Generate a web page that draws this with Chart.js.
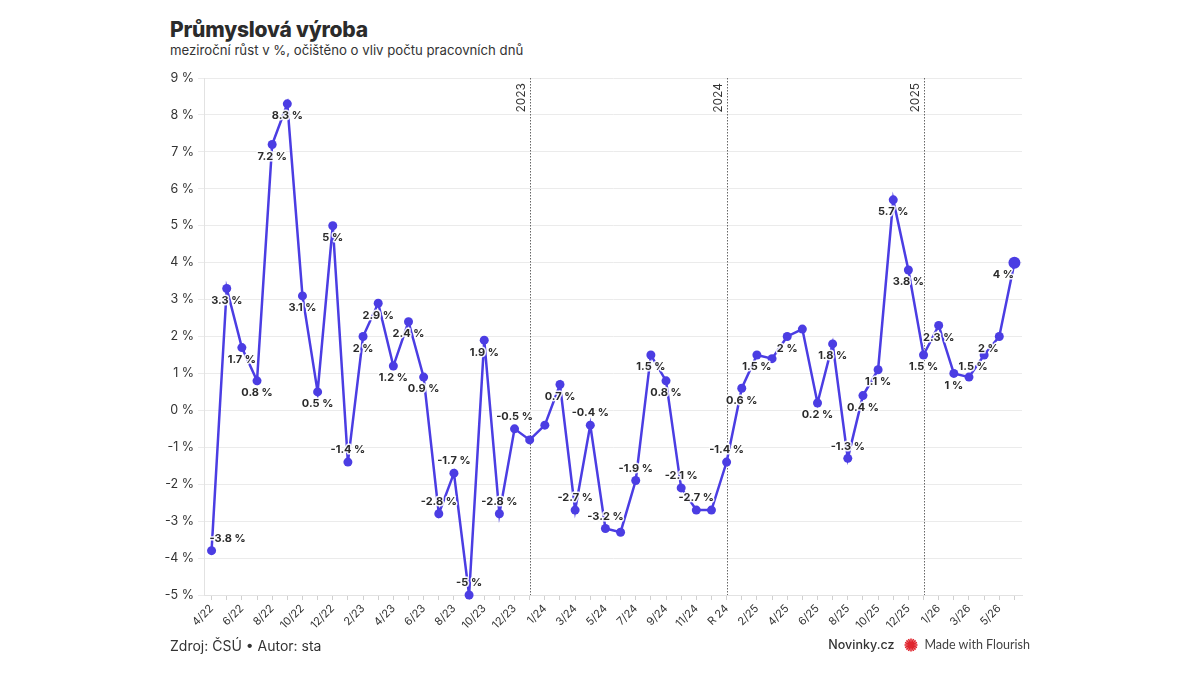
<!DOCTYPE html>
<html lang="cs">
<head>
<meta charset="utf-8">
<script src="https://cdn.jsdelivr.net/npm/chart.js@4.4.1/dist/chart.umd.min.js"></script>
<style>
  html, body { margin: 0; padding: 0; background: #fff; }
  body { width: 1200px; height: 675px; position: relative; overflow: hidden; font-family: Inter, "Noto Sans", sans-serif; color: #333; }
  #title { position: absolute; left: 170px; top: 17px; font-size: 21px; font-weight: 800; color: #2b2b2b; letter-spacing: -0.2px; }
  #subtitle { position: absolute; left: 170px; top: 42px; font-size: 13.2px; color: #333; }
  #chart-box { position: absolute; left: 150px; top: 60px; width: 880px; height: 580px; }
  #source { position: absolute; left: 170px; top: 637px; font-size: 14px; color: #333; }
  #brand { position: absolute; right: 170px; top: 637px; font-size: 12.5px; display: flex; align-items: center; gap: 6px; }
  #brand .nv { color: #333; font-weight: 500; margin-right: 4px; }
  #brand .fl { color: #444; font-family: Lato, sans-serif; font-size: 12.5px; }
</style>
</head>
<body>
<div id="title">Průmyslová výroba</div>
<div id="subtitle">meziroční růst v %, očištěno o vliv počtu pracovních dnů</div>
<div id="chart-box"><canvas id="prodChart"></canvas></div>
<div id="source">Zdroj: ČSÚ • Autor: sta</div>
<div id="brand">
  <span class="nv">Novinky.cz</span>
  <svg width="14" height="14" viewBox="-7 -7 14 14">
    <g stroke="#e0262f" stroke-width="1.6">
      <line x1="-6.5" y1="0" x2="6.5" y2="0"/><line x1="0" y1="-6.5" x2="0" y2="6.5"/>
      <line x1="-4.6" y1="-4.6" x2="4.6" y2="4.6"/><line x1="-4.6" y1="4.6" x2="4.6" y2="-4.6"/>
      <line x1="-6" y1="-2.5" x2="6" y2="2.5"/><line x1="-6" y1="2.5" x2="6" y2="-2.5"/>
      <line x1="-2.5" y1="-6" x2="2.5" y2="6"/><line x1="2.5" y1="-6" x2="-2.5" y2="6"/>
    </g>
    <circle r="3.2" fill="#e0262f"/>
  </svg>
  <span class="fl">Made with Flourish</span>
</div>

<script>
// months as shown on the axis, "R" = whole-year value
const months = [
  "4/22", "5/22", "6/22", "7/22", "8/22", "9/22", "10/22", "11/22", "12/22",
  "1/23", "2/23", "3/23", "4/23", "5/23", "6/23", "7/23", "8/23", "9/23", "10/23", "11/23", "12/23",
  "R 23",
  "1/24", "2/24", "3/24", "4/24", "5/24", "6/24", "7/24", "8/24", "9/24", "10/24", "11/24", "12/24",
  "R 24",
  "1/25", "2/25", "3/25", "4/25", "5/25", "6/25", "7/25", "8/25", "9/25", "10/25", "11/25", "12/25",
  "R 25",
  "1/26", "2/26", "3/26", "4/26", "5/26", "6/26"
];

const growth = [
  -3.8, 3.3, 1.7, 0.8, 7.2, 8.3, 3.1, 0.5, 5,
  -1.4, 2, 2.9, 1.2, 2.4, 0.9, -2.8, -1.7, -5, 1.9, -2.8, -0.5,
  -0.8,
  -0.4, 0.7, -2.7, -0.4, -3.2, -3.3, -1.9, 1.5, 0.8, -2.1, -2.7, -2.7,
  -1.4,
  0.6, 1.5, 1.4, 2, 2.2, 0.2, 1.8, -1.3, 0.4, 1.1, 5.7, 3.8,
  1.5,
  2.3, 1, 0.9, 1.5, 2, 4
];

// where the value label goes: a = above, b = below, ar = above right, bl = below left, "" = none
const labelPlace = [
  "ar", "b", "b", "b", "b", "b", "b", "b", "b",
  "a", "b", "b", "b", "b", "b", "a", "a", "a", "b", "a", "a",
  "",
  "", "b", "a", "a", "a", "", "a", "b", "b", "a", "a", "",
  "a",
  "b", "b", "", "b", "", "b", "b", "a", "b", "b", "b", "b",
  "b",
  "b", "b", "", "bl", "bl", "bl"
];

const yearMarks = ["R 23", "R 24", "R 25"];
const yearNames = ["2023", "2024", "2025"];

const yTicks = [-5, -4, -3, -2, -1, 0, 1, 2, 3, 4, 5, 6, 7, 8, 9];

const lineColor = "#4b3de3";

const yearLinesPlugin = {
  id: "yearLines",
  beforeDatasetsDraw(chart) {
    const ctx = chart.ctx;
    const xScale = chart.scales.x;
    const area = chart.chartArea;
    ctx.save();
    yearMarks.forEach(function (cat, i) {
      const x = Math.round(xScale.getPixelForValue(months.indexOf(cat))) + 0.5;
      ctx.strokeStyle = "#666";
      ctx.lineWidth = 1;
      ctx.setLineDash([1.5, 1.5]);
      ctx.beginPath();
      ctx.moveTo(x, area.top);
      ctx.lineTo(x, area.bottom);
      ctx.stroke();

      ctx.setLineDash([]);
      ctx.translate(x - 3, area.top + 5);
      ctx.rotate(-Math.PI / 2);
      ctx.fillStyle = "#333";
      ctx.font = "12px Inter, sans-serif";
      ctx.textAlign = "right";
      ctx.textBaseline = "bottom";
      ctx.fillText(yearNames[i], 0, 0);
      ctx.setTransform(chart.currentDevicePixelRatio, 0, 0, chart.currentDevicePixelRatio, 0, 0);
    });
    ctx.restore();
  }
};

const valueLabelsPlugin = {
  id: "valueLabels",
  afterDatasetsDraw(chart) {
    const ctx = chart.ctx;
    const points = chart.getDatasetMeta(0).data;
    ctx.save();
    ctx.font = "bold 11px Inter, sans-serif";
    ctx.textAlign = "center";
    ctx.textBaseline = "middle";
    ctx.lineJoin = "round";
    points.forEach(function (pt, i) {
      const place = labelPlace[i];
      if (!place) return;
      let dx = 0;
      let dy = 12;
      if (place === "a") dy = -12;
      if (place === "ar") { dx = 16; dy = -12; }
      if (place === "bl") dx = -11;
      const text = growth[i] + " %";
      ctx.strokeStyle = "rgba(255,255,255,0.9)";
      ctx.lineWidth = 3;
      ctx.strokeText(text, pt.x + dx, pt.y + dy);
      ctx.fillStyle = "#2b2b2b";
      ctx.fillText(text, pt.x + dx, pt.y + dy);
    });
    ctx.restore();
  }
};

const pointSizes = growth.map(function (v, i) {
  return i === growth.length - 1 ? 6 : 4.5;
});

new Chart(document.getElementById("prodChart"), {
  type: "line",
  data: {
    labels: months,
    datasets: [{
      data: growth,
      borderColor: lineColor,
      backgroundColor: lineColor,
      borderWidth: 2.5,
      pointRadius: pointSizes,
      pointHoverRadius: pointSizes,
      pointBorderWidth: 0,
      tension: 0,
      fill: false,
      clip: false
    }]
  },
  options: {
    responsive: true,
    maintainAspectRatio: false,
    animation: false,
    layout: { padding: { top: 18, right: 8, left: 0, bottom: 0 } },
    plugins: {
      legend: { display: false },
      tooltip: { enabled: false }
    },
    scales: {
      x: {
        offset: true,
        grid: { display: true, drawOnChartArea: false, tickLength: 5, color: "#d0d0d0" },
        border: { color: "#e2e2e2" },
        ticks: {
          autoSkip: false,
          maxRotation: 45,
          minRotation: 45,
          padding: 2,
          color: "#333",
          font: { family: "Inter, sans-serif", size: 11 },
          callback: function (value, index) {
            return index % 2 === 0 ? months[index] : "";
          }
        },
        afterFit: function (scale) { scale.height = 45; }
      },
      y: {
        min: yTicks[0],
        max: yTicks[yTicks.length - 1],
        afterBuildTicks: function (scale) {
          scale.ticks = yTicks.map(function (v) { return { value: v }; });
        },
        grid: { color: "#ebebeb", tickLength: 6 },
        border: { color: "#e2e2e2" },
        ticks: {
          padding: 4,
          color: "#333",
          font: { family: "Inter, sans-serif", size: 12.5 },
          callback: function (value) { return value + " %"; }
        },
        afterFit: function (scale) { scale.width = 54; }
      }
    }
  },
  plugins: [yearLinesPlugin, valueLabelsPlugin]
});
</script>
</body>
</html>
